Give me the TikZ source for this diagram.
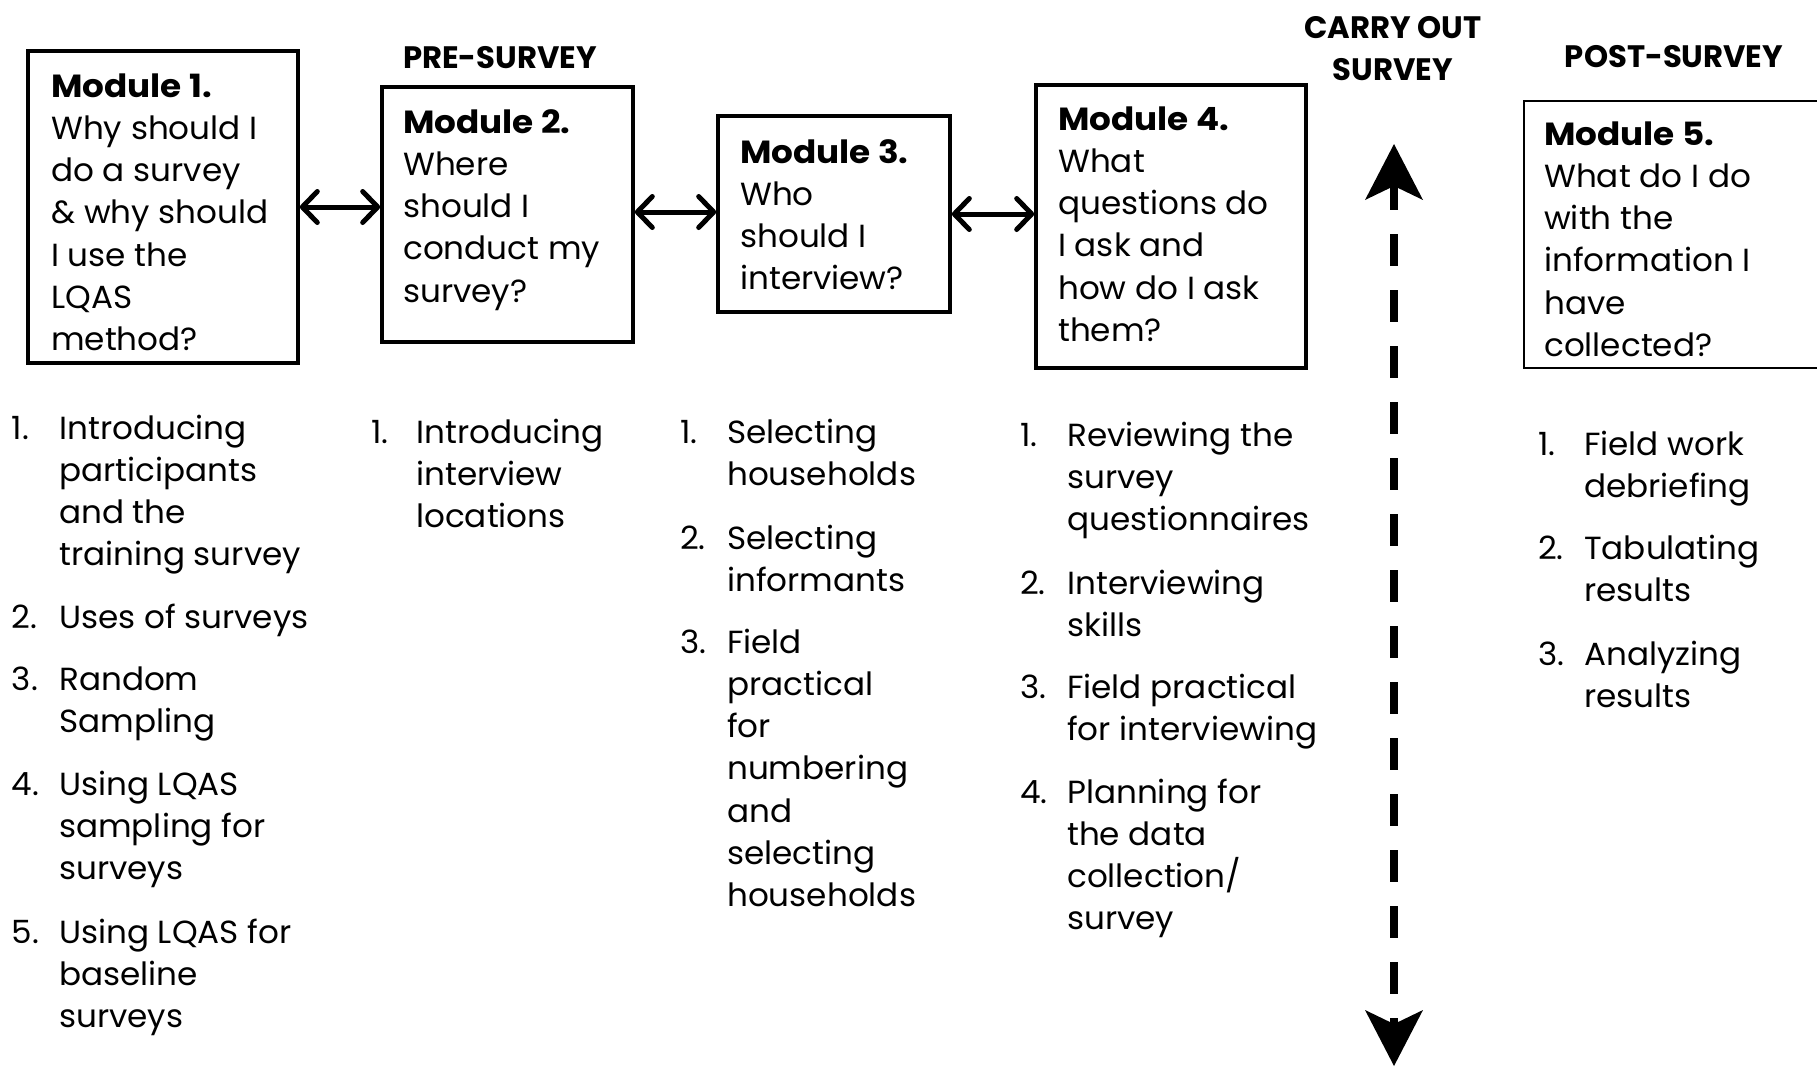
\documentclass[tikz,border=0pt]{standalone}
\usepackage{fontspec}
\setmainfont{Poppins}[FakeStretch=1.02, BoldFeatures={FakeStretch=1.07}]
\newfontfamily\headfont{Poppins}[FakeStretch=0.97, BoldFeatures={FakeStretch=0.99}]
\usetikzlibrary{arrows.meta}
\begin{document}
\begin{tikzpicture}[x=1pt,y=-1pt,
  modbox/.style={draw, line width=3.6pt, inner sep=0pt},
  thinbox/.style={draw, line width=1.8pt, inner sep=0pt},
  body/.style={anchor=base west, inner sep=0pt, align=left, font=\fontsize{32}{42.3}\selectfont},
  num/.style={anchor=base west, inner sep=0pt, font=\fontsize{32}{42.3}\selectfont},
  head/.style={anchor=base, inner sep=0pt, align=center, font=\headfont\bfseries\fontsize{31}{42}\selectfont},
  dbl/.style={draw, line width=5pt, arrows={Straight Barb[length=15pt,width=31pt,round,line width=5pt]-Straight Barb[length=15pt,width=31pt,round,line width=5pt]}}
]
\useasboundingbox (0,0) rectangle (1817,1066);

% module boxes
\node[modbox, minimum width=270pt, minimum height=312pt] (b1) at (163,207) {};
\node[modbox, minimum width=251pt, minimum height=255pt] (b2) at (507.5,214.5) {};
\node[modbox, minimum width=232pt, minimum height=196pt] (b3) at (834,214) {};
\node[modbox, minimum width=270pt, minimum height=283pt] (b4) at (1171,226.5) {};
\node[thinbox, minimum width=376pt, minimum height=267pt] (b5) at (1712,234.5) {};

% box texts (base anchor = baseline of last line)
\node[body] (m1) at (51,350.8) {\textbf{Module 1.}\\Why should I\\do a survey\\\& why should\\I use the\\LQAS\\method?};
\node[body] (m2) at (403,302.2) {\textbf{Module 2.}\\Where\\should I\\conduct my\\survey?};
\node[body] (m3) at (740,289.9) {\textbf{Module 3.}\\Who\\should I\\interview?};
\node[body] (m4) at (1058,341.5) {\textbf{Module 4.}\\What\\questions do\\I ask and\\how do I ask\\them?};
\node[body] (m5) at (1544,356.5) {\textbf{Module 5.}\\What do I do\\with the\\information I\\have\\collected?};

% headings
\node[head] (pre) at (500,68) {PRE-SURVEY};
\node[head] (carry) at (1393,80) {CARRY OUT\\SURVEY};
\node[head] (post) at (1674,67) {POST-SURVEY};

% connectors between modules
\path[dbl] (b1.east |- 0,207) -- (b2.west |- 0,207);
\path[dbl] (b2.east |- 0,212) -- (b3.west |- 0,212);
\path[dbl] (b3.east |- 0,214) -- (b4.west |- 0,214);

% survey arrow
\coordinate (up) at (1394,144);
\coordinate (dn) at (1394,1066);
\draw[line width=8pt, dash pattern=on 32pt off 24pt, dash phase=8pt,
  {Stealth[length=56pt,width=58pt,inset=14pt,line width=0pt]}-{Stealth[length=56pt,width=58pt,inset=14pt,line width=0pt]}]
  (up) -- (dn);

% column 1 lists
\node[num] (n11) at (11.6,439) {1.};
\node[body] (t11) at (59,565.9) {Introducing\\participants\\and the\\training survey};
\node[num] (n12) at (11.6,628) {2.};
\node[body] (t12) at (59,628) {Uses of surveys};
\node[num] (n13) at (11.6,690) {3.};
\node[body] (t13) at (59,732.3) {Random\\Sampling};
\node[num] (n14) at (11.6,795) {4.};
\node[body] (t14) at (59,879.6) {Using LQAS\\sampling for\\surveys};
\node[num] (n15) at (11.6,943) {5.};
\node[body] (t15) at (59,1027.6) {Using LQAS for\\baseline\\surveys};

% column 2
\node[num] (n21) at (371,443) {1.};
\node[body] (t21) at (416,527.6) {Introducing\\interview\\locations};

% column 3
\node[num] (n31) at (680,443) {1.};
\node[body] (t31) at (727,485.3) {Selecting\\households};
\node[num] (n32) at (680,549) {2.};
\node[body] (t32) at (727,591.3) {Selecting\\informants};
\node[num] (n33) at (680,653) {3.};
\node[body] (t33) at (727,906.8) {Field\\practical\\for\\numbering\\and\\selecting\\households};

% column 4
\node[num] (n41) at (1020,446) {1.};
\node[body] (t41) at (1067,530.6) {Reviewing the\\survey\\questionnaires};
\node[num] (n42) at (1020,594) {2.};
\node[body] (t42) at (1067,636.3) {Interviewing\\skills};
\node[num] (n43) at (1020,698) {3.};
\node[body] (t43) at (1067,740.3) {Field practical\\for interviewing};
\node[num] (n44) at (1020,803) {4.};
\node[body] (t44) at (1067,929.9) {Planning for\\the data\\collection/\\survey};

% column 5
\node[num] (n51) at (1538,455) {1.};
\node[body] (t51) at (1584,497.3) {Field work\\debriefing};
\node[num] (n52) at (1538,559) {2.};
\node[body] (t52) at (1584,601.3) {Tabulating\\results};
\node[num] (n53) at (1538,665) {3.};
\node[body] (t53) at (1584,707.3) {Analyzing\\results};
\end{tikzpicture}
\end{document}
